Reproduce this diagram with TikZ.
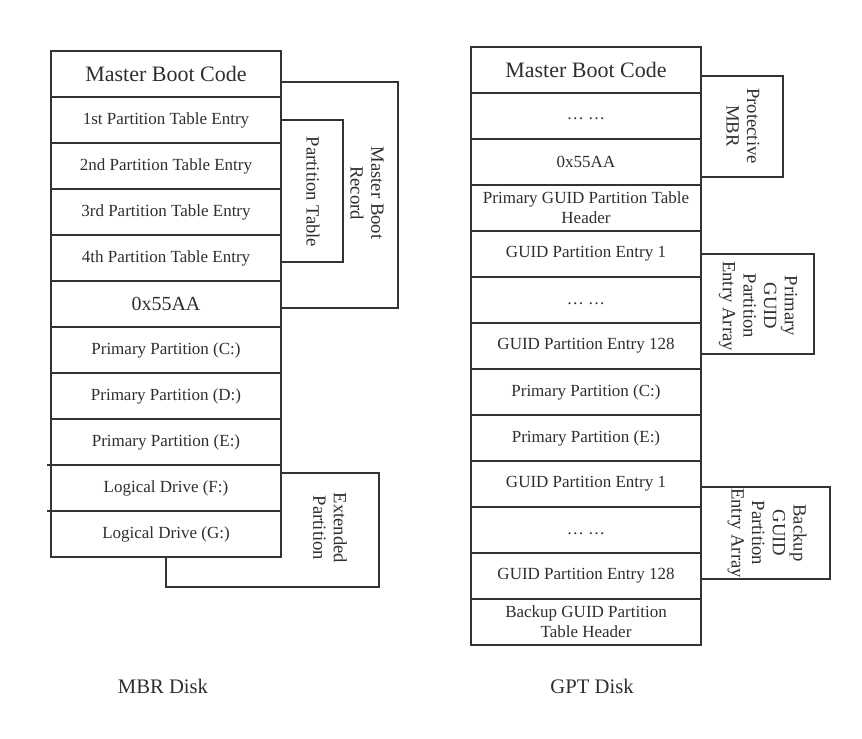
\documentclass[tikz,border=0pt]{standalone}
\usepackage{fontspec}
\setmainfont{Liberation Serif}
\usetikzlibrary{positioning}
\definecolor{diskLine}{HTML}{333333}
\definecolor{diskText}{HTML}{2E2E2E}

\begin{document}
\begin{tikzpicture}[x=0.75pt, y=0.75pt, text=diskText,
          row/.style={draw=diskLine, line width=1.5pt, minimum width=172.5pt, minimum height=34.5pt,
                      inner sep=0pt, outer sep=0pt, align=center, font=\fontsize{12.75}{15}\selectfont},
          head/.style={font=\fontsize{16.5}{19}\selectfont},
          bracket/.style={draw=diskLine, line width=1.5pt},
          brlab/.style={rotate=-90, align=center, inner sep=0pt, font=\fontsize{14}{15.5}\selectfont},
          disklab/.style={font=\fontsize{15.5}{18}\selectfont}]
        \useasboundingbox (0,0) rectangle (862,-738);
        % MBR disk
        \node[row, head] (mcode) at (166,-74) {Master Boot Code};
        \node[row, below=0pt of mcode] (pte1) {1st Partition Table Entry};
        \node[row, below=0pt of pte1] (pte2) {2nd Partition Table Entry};
        \node[row, below=0pt of pte2] (pte3) {3rd Partition Table Entry};
        \node[row, below=0pt of pte3] (pte4) {4th Partition Table Entry};
        \node[row, below=0pt of pte4, font=\fontsize{15}{18}\selectfont] (magic) {0x55AA};
        \node[row, below=0pt of magic] (ppc) {Primary Partition (C:)};
        \node[row, below=0pt of ppc] (ppd) {Primary Partition (D:)};
        \node[row, below=0pt of ppd] (ppe) {Primary Partition (E:)};
        \node[row, below=0pt of ppe] (ldf) {Logical Drive (F:)};
        \node[row, below=0pt of ldf] (ldg) {Logical Drive (G:)};
        \draw[bracket] ([xshift=-3pt]ldf.north west) -- (ldf.north west);
        \draw[bracket] ([xshift=-3pt]ldf.south west) -- (ldf.south west);
        \draw[bracket] ([yshift=-6pt]mcode.east) -- ++(117,0) |- ([yshift=-3pt]magic.east);
        \draw[bracket] (pte1.east) -- ++(62,0) |- ([yshift=-3pt]pte4.east);
        \draw[bracket] ([yshift=11pt]ldf.east) -- ++(98,0) -- ++(0,-114) -| (ldg.south);
        \node[brlab] (mbrlab) at (367,-193) {Master Boot\\Record};
        \node[brlab] (ptlab) at (313,-192) {Partition Table};
        \node[brlab] (extlab) at (330,-528) {Extended\\Partition};
        \node[disklab] (mbrdisk) at (163,-686) {MBR Disk};
        % GPT disk
        \node[row, head] (gcode) at (586,-70) {Master Boot Code};
        \node[row, below=0pt of gcode] (gdots) {\strut\dots\ \dots};
        \node[row, below=0pt of gdots] (gmagic) {0x55AA};
        \node[row, below=0pt of gmagic] (phdr) {Primary GUID Partition Table\\Header};
        \node[row, below=0pt of phdr] (pe1) {GUID Partition Entry 1};
        \node[row, below=0pt of pe1] (pdots) {\strut\dots\ \dots};
        \node[row, below=0pt of pdots] (pe128) {GUID Partition Entry 128};
        \node[row, below=0pt of pe128] (gpc) {Primary Partition (C:)};
        \node[row, below=0pt of gpc] (gpe) {Primary Partition (E:)};
        \node[row, below=0pt of gpe] (be1) {GUID Partition Entry 1};
        \node[row, below=0pt of be1] (bdots) {\strut\dots\ \dots};
        \node[row, below=0pt of bdots] (be128) {GUID Partition Entry 128};
        \node[row, below=0pt of be128] (bhdr) {Backup GUID Partition\\Table Header};
        \draw[bracket] ([yshift=-4.5pt]gcode.east) -- ++(82,0) |- ([yshift=-11pt]gmagic.east);
        \draw[bracket] (pe1.east) -- ++(113,0) |- ([yshift=-6pt]pe128.east);
        \draw[bracket] ([yshift=-2pt]be1.east) -- ++(129,0) |- ([yshift=-2pt]be128.east);
        \node[brlab] (pmbrlab) at (743,-126) {Protective\\MBR};
        \node[brlab] (parrlab) at (758,-306) {Primary\\GUID\\Partition\\Entry Array};
        \node[brlab] (barrlab) at (767,-533) {Backup\\GUID\\Partition\\Entry Array};
        \node[disklab] (gptdisk) at (592,-686) {GPT Disk};
      \end{tikzpicture}
\end{document}
